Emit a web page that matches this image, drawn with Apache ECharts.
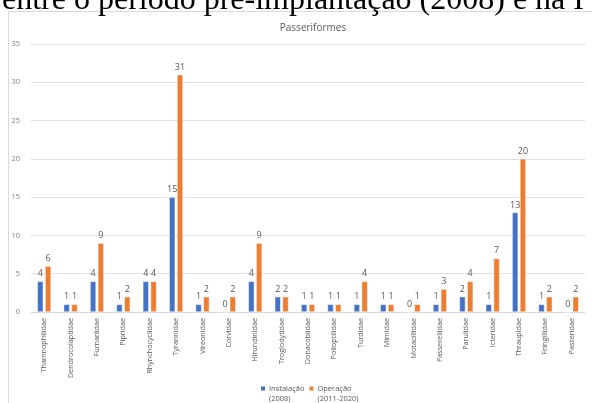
<!DOCTYPE html>
<html>
<head>
<meta charset="utf-8">
<script src="https://cdn.jsdelivr.net/npm/echarts@6/dist/echarts.min.js"></script>
<style>
html,body{margin:0;padding:0;background:#fff;overflow:hidden;}
#top{position:absolute;left:2px;top:-19px;font-family:"Liberation Serif","Times New Roman",serif;font-size:32px;color:#000;white-space:nowrap;line-height:34px;}
#chart{position:absolute;left:0;top:0;width:592px;height:403px;}
</style>
</head>
<body>
<div id="chart"></div>
<div id="top">entre o período pré-implantação (2008) e na I</div>
<script>
const categories = ["Thamnophilidae","Dendrocolaptidae","Furnariidae","Pipridae","Rhynchocyclidae","Tyrannidae","Vireonidae","Corvidae","Hirundinidae","Troglodytidae","Donacobiidae","Polioptilidae","Turdidae","Mimidae","Motacillidae","Passerellidae","Parulidae","Icteridae","Thraupidae","Fringillidae","Passeridae"];
const instalacao = [4,1,4,1,4,15,1,0,4,2,1,1,1,1,0,1,2,1,13,1,0];
const operacao = [6,1,9,2,4,31,2,2,9,2,1,1,4,1,1,3,4,7,20,2,2];
const seriesNames = ["Instalação\n(2008)","Operação\n(2011-2020)"];
const chart = echarts.init(document.getElementById('chart'), null, {renderer:'canvas'});
const labelStyle = {show:true, position:'top', color:'#595959', fontSize:9, distance:3, fontFamily:'Open Sans'};
const legendIcon = 'path://M0,0H6V6H0Z M0,17H0.01V17.01H0Z';
chart.setOption({
  animation:false,
  title:{text:'Passeriformes', left:308, top:18, textAlign:'center', textStyle:{fontSize:10, fontWeight:'normal', color:'#595959', fontFamily:'Open Sans'}},
  graphic:[
    {type:'line', shape:{x1:8.5,y1:11,x2:8.5,y2:403}, style:{stroke:'#d9d9d9', lineWidth:1}},
    {type:'line', shape:{x1:8,y1:11.5,x2:592,y2:11.5}, style:{stroke:'#d9d9d9', lineWidth:1}}
  ],
  legend:{left:254, top:379, itemWidth:6, itemHeight:17, itemGap:3, icon:legendIcon,
    textStyle:{fontSize:7.5, color:'#595959', lineHeight:10, fontFamily:'Open Sans', padding:[0,0,0,-2]},
    data:seriesNames},
  grid:{left:31, right:7, top:44, bottom:91, containLabel:false},
  xAxis:{type:'category', data:categories,
    axisLine:{lineStyle:{color:'#d9d9d9'}}, axisTick:{show:false},
    axisLabel:{rotate:90, fontSize:7.2, color:'#595959', interval:0, margin:6, fontFamily:'Open Sans'}},
  yAxis:{type:'value', min:0, max:35, interval:5,
    axisLine:{show:false}, axisTick:{show:false},
    axisLabel:{fontSize:7.5, color:'#808080', margin:11, fontFamily:'Open Sans'},
    splitLine:{lineStyle:{color:'#e0e0e0'}}},
  series:[
    {name:seriesNames[0], type:'bar', data:instalacao, barWidth:6, barGap:'30%', itemStyle:{color:'#4472C4', borderColor:'#fff', borderWidth:0.5}, label:labelStyle},
    {name:seriesNames[1], type:'bar', data:operacao, barWidth:6, barGap:'30%', itemStyle:{color:'#ED7D31', borderColor:'#fff', borderWidth:0.5}, label:labelStyle}
  ]
});
</script>
</body>
</html>
